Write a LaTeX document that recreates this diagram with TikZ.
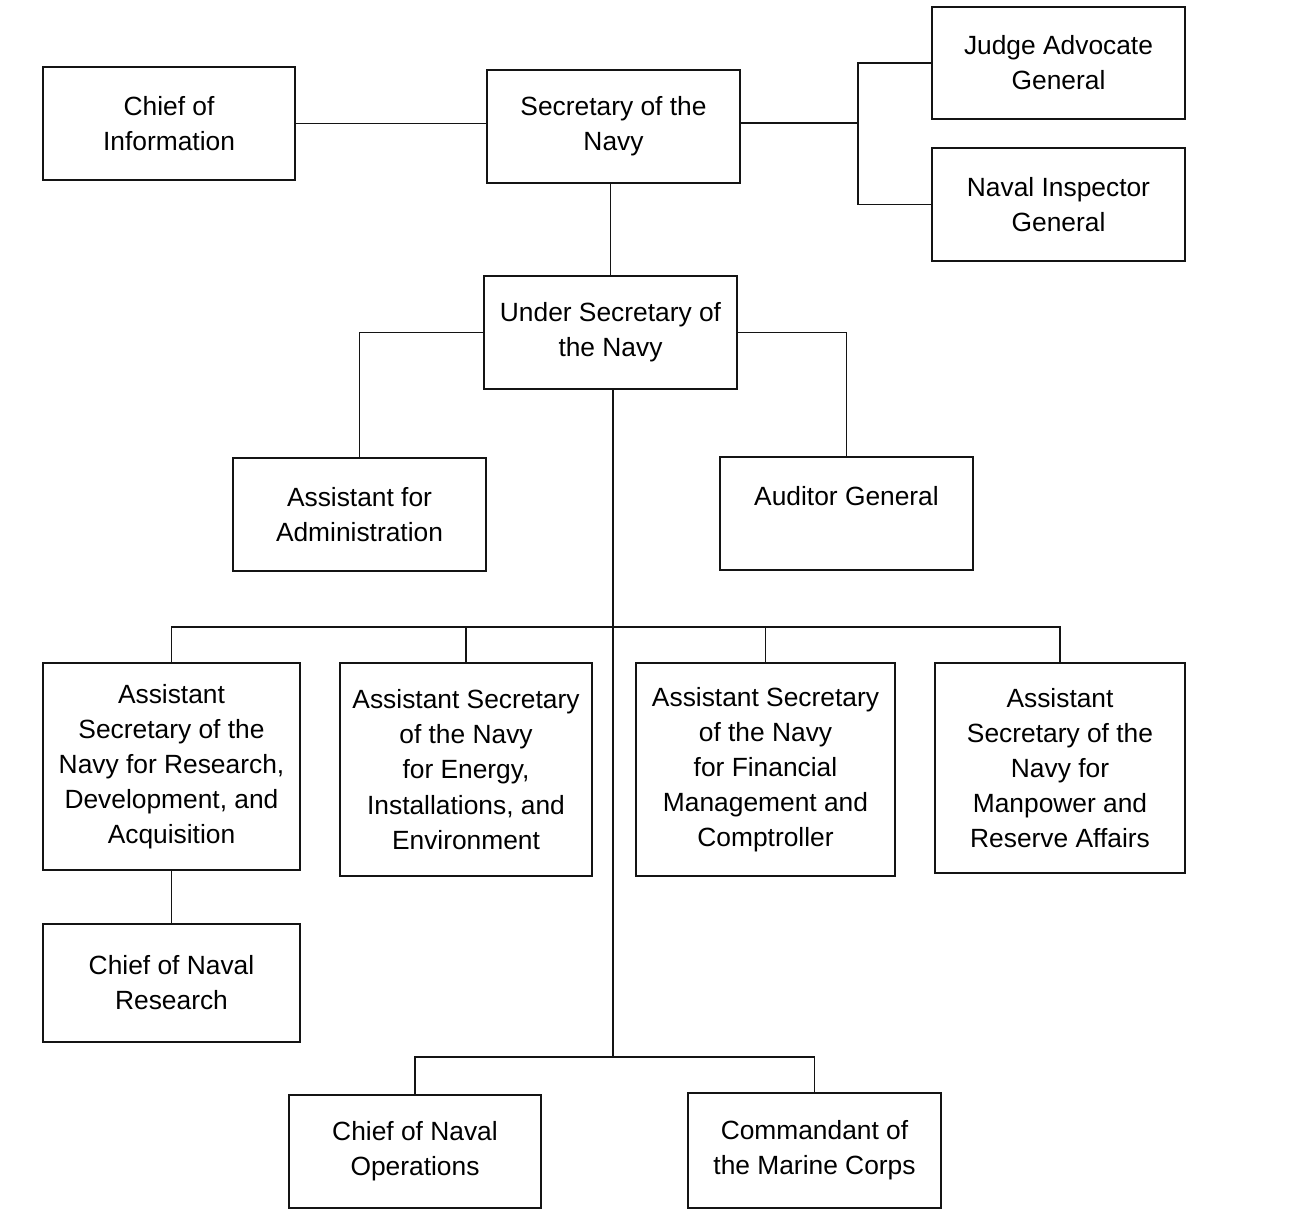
\documentclass[tikz,border=0pt]{standalone}
\usepackage{fontspec}
\setmainfont{Liberation Sans}
\usepackage{tikz}
\usetikzlibrary{positioning}
\definecolor{inkline}{RGB}{20,20,20}

\begin{document}
\begin{tikzpicture}[x=0.02cm,y=-0.02cm,
    office/.style={draw=inkline,line width=1.1pt,align=center,inner sep=0pt,
      minimum width=5.06cm,minimum height=2.26cm,
      font=\fontsize{15pt}{20pt}\selectfont},
    asnbox/.style={office,minimum height=4.2cm},
    link/.style={draw=inkline,line width=1.1pt}]
  \useasboundingbox (0,0) rectangle (1301,1213);
  \node[office,minimum width=5.04cm] (info) at (169,123.5) {Chief of\\Information};
  \node[office] (secnav) at (613.5,126.5) {Secretary of the\\Navy};
  \node[office,minimum height=2.24cm] (jag) at (1058.5,63) {Judge Advocate\\General};
  \node[office] (nig) at (1058.5,204.5) {Naval Inspector\\General};
  \node[office] (under) at (610.5,332.5) {Under Secretary of\\the Navy};
  \node[office] (admin) at (359.5,514.5) {Assistant for\\Administration};
  \node[office] (auditor) at (846.5,513.5) {Auditor General\\\mbox{}};
  \node[asnbox,minimum width=5.14cm,minimum height=4.14cm] (rda) at (171.5,766.5)
    {Assistant\\Secretary of the\\Navy for Research,\\Development, and\\Acquisition};
  \node[asnbox,minimum width=5.04cm,minimum height=4.26cm] (eie) at (466,769.5)
    {Assistant Secretary\\of the Navy\\for Energy,\\Installations, and\\Environment};
  \node[asnbox,minimum width=5.18cm,minimum height=4.26cm] (fmc) at (765.5,769.5)
    {Assistant Secretary\\of the Navy\\for Financial\\Management and\\Comptroller};
  \node[asnbox,minimum width=5.0cm] (mra) at (1060,768)
    {Assistant\\Secretary of the\\Navy for\\Manpower and\\Reserve Affairs};
  \node[office,minimum width=5.14cm,minimum height=2.36cm] (cnr) at (171.5,983) {Chief of Naval\\Research};
  \node[office,minimum width=5.04cm] (cno) at (415,1151.5) {Chief of Naval\\Operations};
  \node[office,minimum height=2.3cm] (cmc) at (814.5,1150.5) {Commandant of\\the Marine Corps};

  \coordinate (staffbus) at (858,123);
  \coordinate (asnbus) at (613,627);
  \coordinate (opsbus) at (613,1057);

  \draw[link] (info.east) -- (info.east -| secnav.west);
  \draw[link] (staffbus -| secnav.east) -- (staffbus);
  \draw[link] (jag.west) -| (staffbus) |- (nig.west);
  \draw[link] (under.north |- secnav.south) -- (under.north);
  \draw[link] (under.west) -| (admin.north);
  \draw[link] (under.east) -| (auditor.north);
  \draw[link] (asnbus |- under.south) -- (opsbus);
  \draw[link] (rda.north) |- (asnbus) -| (mra.north);
  \draw[link] (eie.north) -- (eie.north |- asnbus);
  \draw[link] (fmc.north) -- (fmc.north |- asnbus);
  \draw[link] (rda.south) -- (cnr.north);
  \draw[link] (cno.north) |- (opsbus) -| (cmc.north);
\end{tikzpicture}
\end{document}
